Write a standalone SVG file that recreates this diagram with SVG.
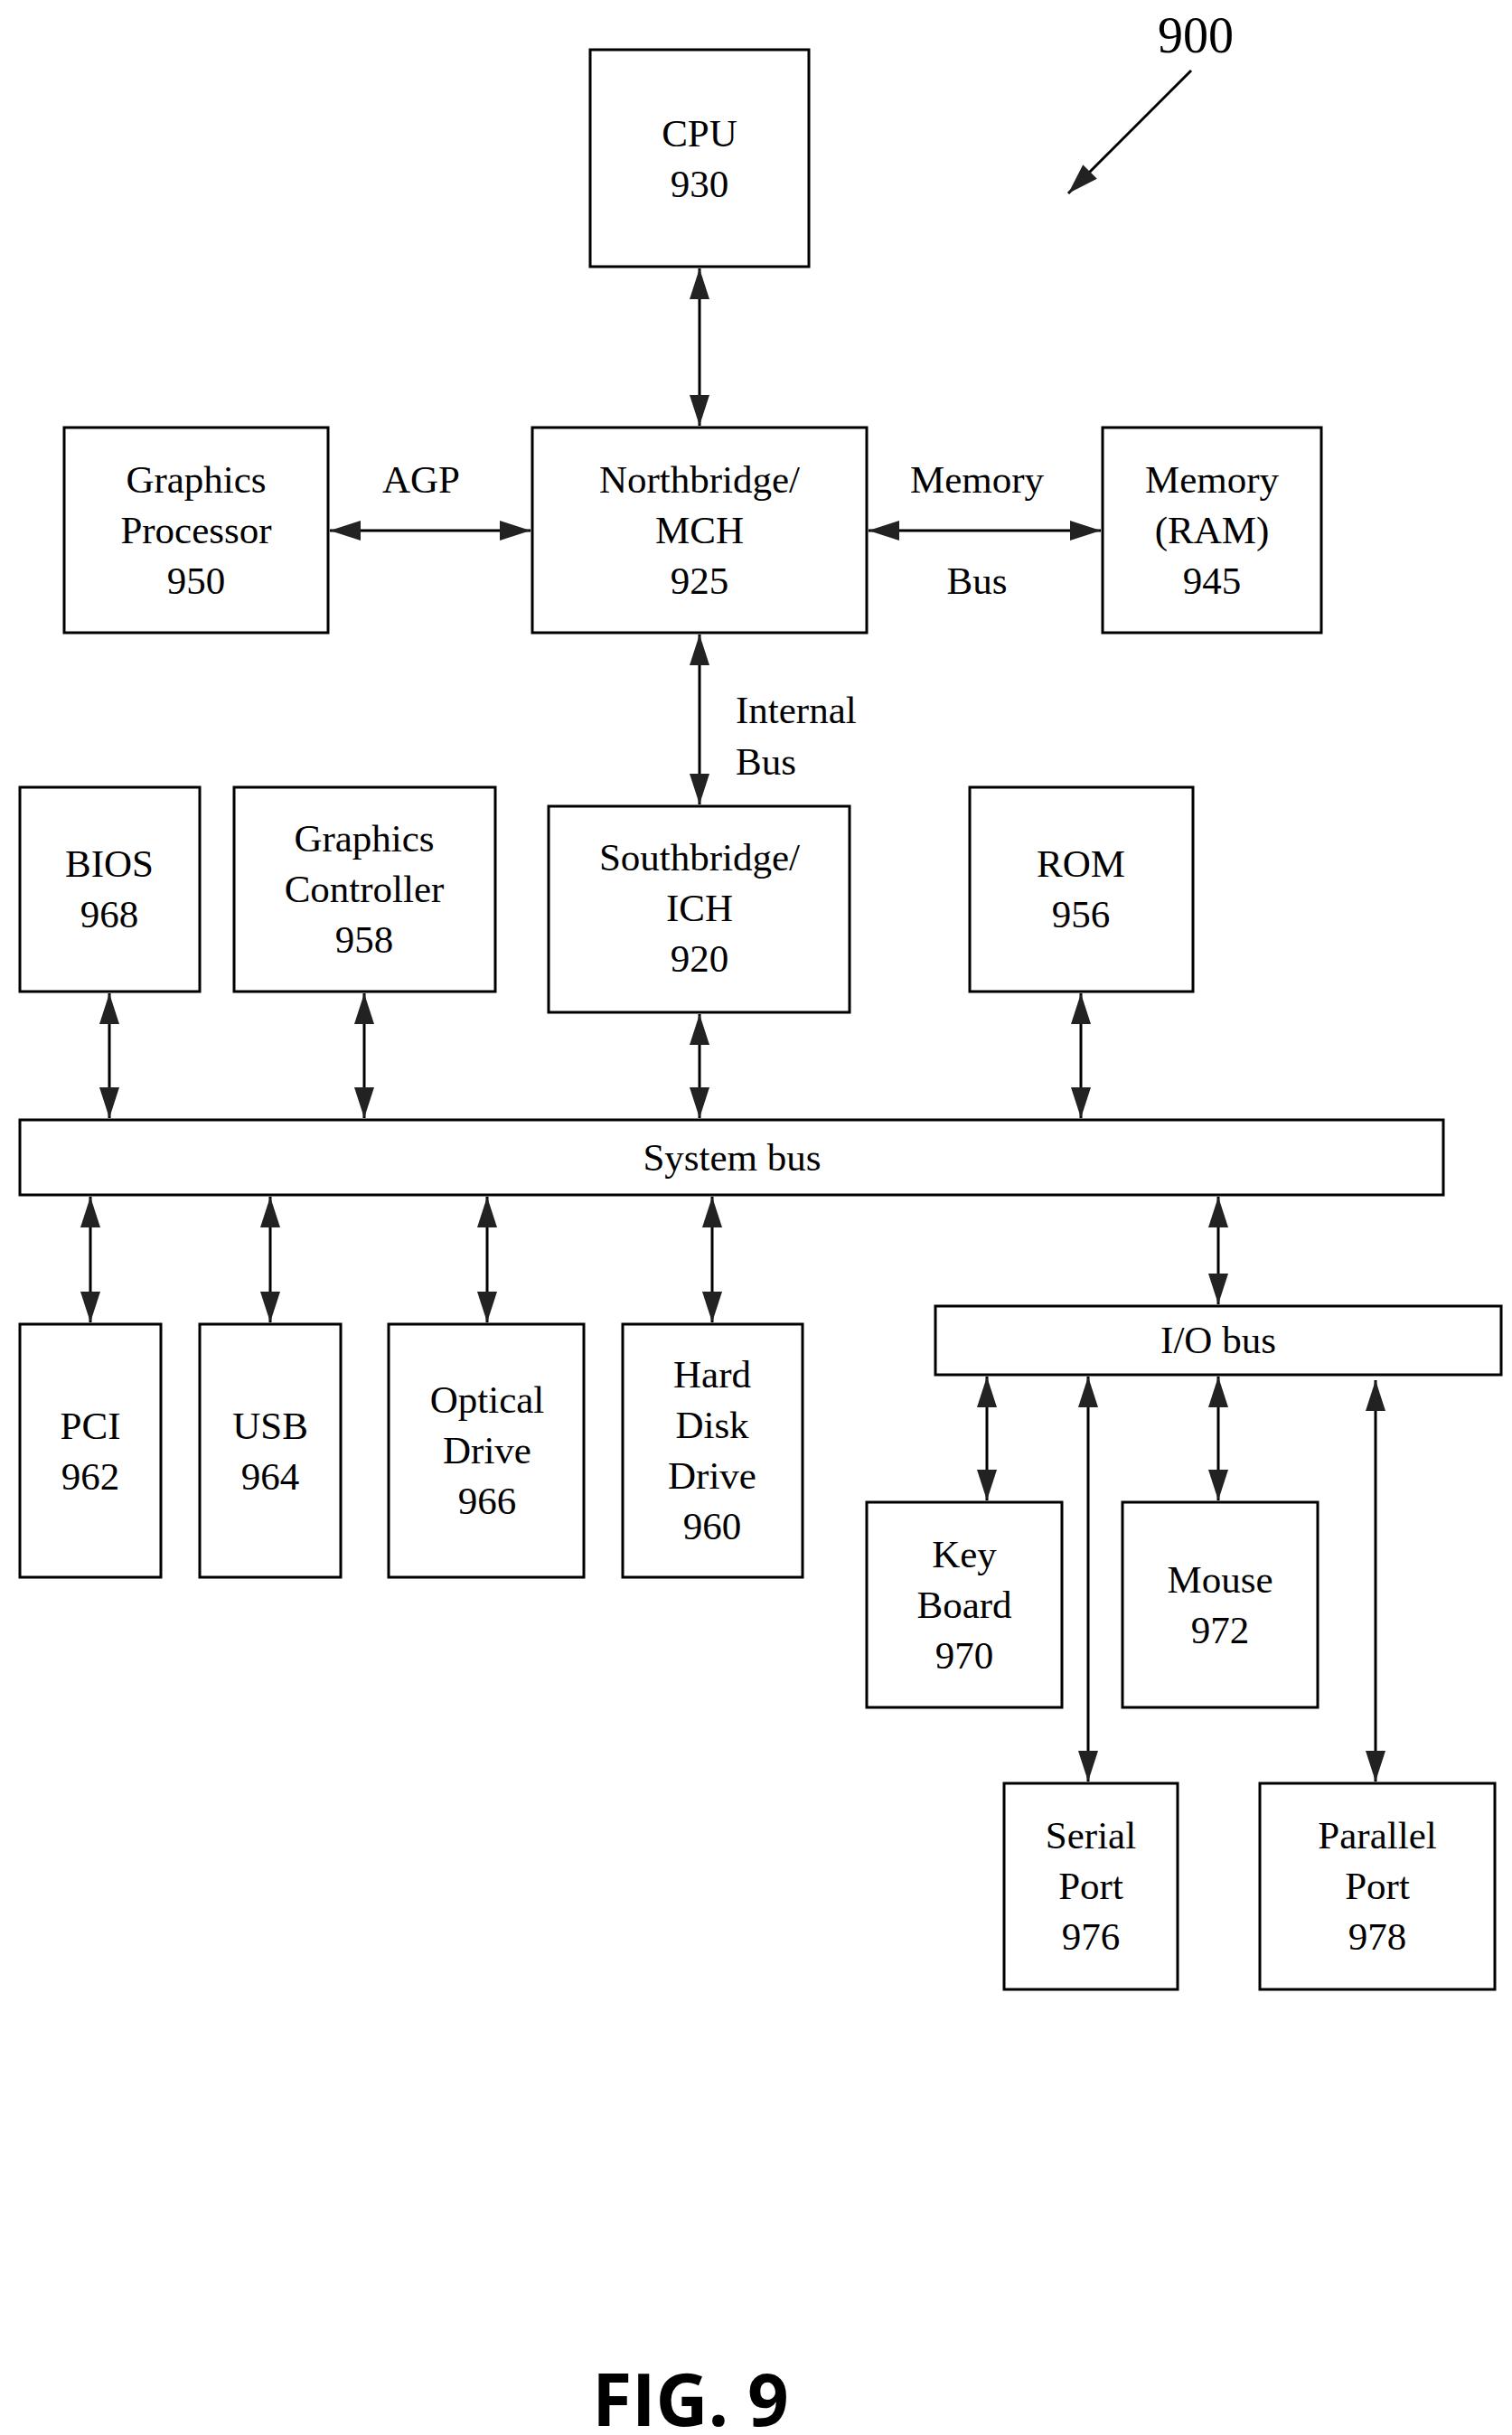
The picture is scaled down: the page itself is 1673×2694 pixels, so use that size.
<svg xmlns="http://www.w3.org/2000/svg" width="1673" height="2694" viewBox="0 0 1673 2694">
<style>
rect{fill:#fff;stroke:#000;stroke-width:3}
text{font-family:"Liberation Serif",serif;font-size:43px;text-anchor:middle;fill:#000}
.c line{stroke:#000;stroke-width:3;marker-start:url(#a);marker-end:url(#a)}
</style>
<defs>
<marker id="a" viewBox="0 0 34 22" refX="34" refY="11" markerWidth="34" markerHeight="22" markerUnits="userSpaceOnUse" orient="auto-start-reverse"><path d="M0,0L34,11L0,22z" fill="#222"/></marker>
</defs>
<rect width="1673" height="2694" style="stroke:none"/>
<g class="c" id="connectors">
<line x1="774" y1="297" x2="774" y2="471"/>
<line x1="365" y1="587" x2="587" y2="587"/>
<line x1="961" y1="587" x2="1218" y2="587"/>
<line x1="774" y1="702" x2="774" y2="890"/>
<line x1="121" y1="1099" x2="121" y2="1237"/>
<line x1="403" y1="1099" x2="403" y2="1237"/>
<line x1="774" y1="1122" x2="774" y2="1237"/>
<line x1="1196" y1="1099" x2="1196" y2="1237"/>
<line x1="100" y1="1324" x2="100" y2="1463"/>
<line x1="299" y1="1324" x2="299" y2="1463"/>
<line x1="539" y1="1324" x2="539" y2="1463"/>
<line x1="788" y1="1324" x2="788" y2="1463"/>
<line x1="1348" y1="1324" x2="1348" y2="1443"/>
<line x1="1092" y1="1523" x2="1092" y2="1660"/>
<line x1="1204" y1="1523" x2="1204" y2="1971"/>
<line x1="1348" y1="1523" x2="1348" y2="1660"/>
<line x1="1522" y1="1527" x2="1522" y2="1971"/>
<line x1="1318" y1="78" x2="1182" y2="214" style="marker-start:none"/>
</g>
<text x="1323" y="58" style="font-size:56px">900</text>
<g id="cpu"><rect x="653" y="55" width="242" height="240"/><text x="774" y="162">CPU</text><text x="774" y="218">930</text></g>
<g id="gp"><rect x="71" y="473" width="292" height="227"/><text x="217" y="545">Graphics</text><text x="217" y="601">Processor</text><text x="217" y="657">950</text></g>
<text x="466" y="545">AGP</text>
<g id="nb"><rect x="589" y="473" width="370" height="227"/><text x="774" y="545">Northbridge/</text><text x="774" y="601">MCH</text><text x="774" y="657">925</text></g>
<text x="1081" y="545">Memory</text><text x="1081" y="657">Bus</text>
<g id="ram"><rect x="1220" y="473" width="242" height="227"/><text x="1341" y="545">Memory</text><text x="1341" y="601">(RAM)</text><text x="1341" y="657">945</text></g>
<text x="814" y="800" style="text-anchor:start">Internal</text><text x="814" y="857" style="text-anchor:start">Bus</text>
<g id="bios"><rect x="22" y="871" width="199" height="226"/><text x="121" y="970">BIOS</text><text x="121" y="1026">968</text></g>
<g id="gc"><rect x="259" y="871" width="289" height="226"/><text x="403" y="942">Graphics</text><text x="403" y="998">Controller</text><text x="403" y="1054">958</text></g>
<g id="sb"><rect x="607" y="892" width="333" height="228"/><text x="774" y="963">Southbridge/</text><text x="774" y="1019">ICH</text><text x="774" y="1075">920</text></g>
<g id="rom"><rect x="1073" y="871" width="247" height="226"/><text x="1196" y="970">ROM</text><text x="1196" y="1026">956</text></g>
<g id="sysbus"><rect x="22" y="1239" width="1575" height="83"/><text x="810" y="1295">System bus</text></g>
<g id="pci"><rect x="22" y="1465" width="156" height="280"/><text x="100" y="1592">PCI</text><text x="100" y="1648">962</text></g>
<g id="usb"><rect x="221" y="1465" width="156" height="280"/><text x="299" y="1592">USB</text><text x="299" y="1648">964</text></g>
<g id="od"><rect x="430" y="1465" width="216" height="280"/><text x="539" y="1563">Optical</text><text x="539" y="1619">Drive</text><text x="539" y="1675">966</text></g>
<g id="hdd"><rect x="689" y="1465" width="199" height="280"/><text x="788" y="1535">Hard</text><text x="788" y="1591">Disk</text><text x="788" y="1647">Drive</text><text x="788" y="1703">960</text></g>
<g id="iobus"><rect x="1035" y="1445" width="626" height="76"/><text x="1348" y="1497">I/O bus</text></g>
<g id="kb"><rect x="959" y="1662" width="216" height="227"/><text x="1067" y="1734">Key</text><text x="1067" y="1790">Board</text><text x="1067" y="1846">970</text></g>
<g id="mouse"><rect x="1242" y="1662" width="216" height="227"/><text x="1350" y="1762">Mouse</text><text x="1350" y="1818">972</text></g>
<g id="serial"><rect x="1111" y="1973" width="192" height="228"/><text x="1207" y="2045">Serial</text><text x="1207" y="2101">Port</text><text x="1207" y="2157">976</text></g>
<g id="parallel"><rect x="1394" y="1973" width="260" height="228"/><text x="1524" y="2045">Parallel</text><text x="1524" y="2101">Port</text><text x="1524" y="2157">978</text></g>
<text x="764" y="2684" style="font-family:'Open Sans','DejaVu Sans',sans-serif;font-weight:bold;font-size:80px">FIG. 9</text>
</svg>
